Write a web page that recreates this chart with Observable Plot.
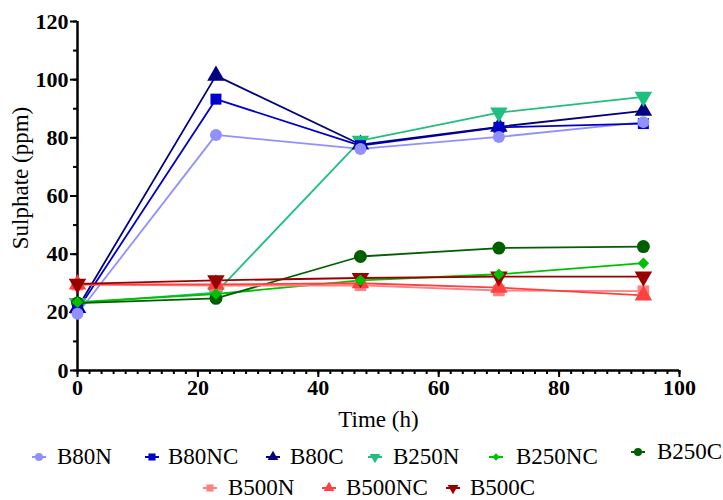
<!DOCTYPE html>
<html><head><meta charset="utf-8">
<script src="https://cdn.jsdelivr.net/npm/d3@7"></script>
<script src="https://cdn.jsdelivr.net/npm/@observablehq/plot@0.6"></script>
<style>
body{margin:0;background:#fff;}
#wrap{position:relative;width:723px;height:500px;font-family:"Liberation Serif",Tinos,"DejaVu Serif","Times New Roman",serif;overflow:hidden;}
#wrap svg.plot{position:absolute;left:0;top:0;}
.legsym{position:absolute;}
.legtxt{position:absolute;font-size:23px;line-height:23px;color:#000;white-space:nowrap;}
</style></head><body><div id="wrap"></div>
<script>
// ---- data ----
const times = [0, 23, 47, 70, 94];
const seriesNames = ["B80N", "B80NC", "B80C", "B250N", "B250NC", "B250C", "B500N", "B500NC", "B500C"];
const B80N   = [19.5, 81.0, 76.2, 80.3, 85.4];
const B80NC  = [20.7, 93.3, 77.3, 83.6, 84.9];
const B80C   = [21.5, 101.4, 77.7, 83.8, 89.3];
const B250N  = [23.2, 26.8, 79.0, 88.7, 94.1];
const B250NC = [23.5, 26.3, 31.0, 33.1, 36.9];
const B250C  = [23.2, 24.8, 39.2, 42.1, 42.6];
const B500N  = [29.5, 29.2, 29.3, 27.5, 27.3];
const B500NC = [29.6, 29.6, 30.0, 28.5, 25.8];
const B500C  = [29.8, 31.0, 31.8, 32.3, 32.3];
const seriesValues = [B80N, B80NC, B80C, B250N, B250NC, B250C, B500N, B500NC, B500C];
const seriesColors = ["#9090ff", "#0000cc", "#000080", "#1fbf7f", "#00c000", "#005f00", "#ff8080", "#ff4040", "#990000"];
const yTicks = [0, 20, 40, 60, 80, 100, 120];
const xTicks = [0, 20, 40, 60, 80, 100];

// down-pointing triangle symbol
const triangleDown = {
  draw(context, size) {
    const sqrt3 = Math.sqrt(3);
    const y = -Math.sqrt(size / (sqrt3 * 3));
    context.moveTo(0, -y * 2);
    context.lineTo(-sqrt3 * y, y);
    context.lineTo(sqrt3 * y, y);
    context.closePath();
  }
};
const seriesSymbols = [d3.symbolCircle, d3.symbolSquare, d3.symbolTriangle, triangleDown, d3.symbolDiamond2, d3.symbolCircle, d3.symbolSquare, d3.symbolTriangle, triangleDown];
const seriesR = [6, 6.2, 6.5, 6.5, 5.2, 6.5, 6.5, 6.5, 6.5];

const data = [];
seriesNames.forEach((s, i) => {
  times.forEach((t, j) => data.push({series: s, time: t, value: seriesValues[i][j], r: seriesR[i]}));
});

const font = '"Liberation Serif", Tinos, "DejaVu Serif", "Times New Roman", serif';

const plot = Plot.plot({
  width: 723,
  height: 435,
  marginLeft: 77,
  marginRight: 44,
  marginTop: 21,
  marginBottom: 65,
  style: {fontFamily: font, color: "#000", background: "#fff", overflow: "visible"},
  x: {domain: [0, 100], axis: null},
  y: {domain: [0, 120], axis: null},
  color: {domain: seriesNames, range: seriesColors},
  symbol: {domain: seriesNames, range: seriesSymbols},
  r: {type: "identity"},
  marks: [
    Plot.axisY({ticks: d3.range(0, 121, 10), tickSize: 4, tickFormat: () => "", strokeWidth: 2, label: null}),
    Plot.axisY({ticks: yTicks, tickSize: 7, tickPadding: 2, fontSize: 22, fontWeight: "bold", fontFamily: font, strokeWidth: 2, label: null}),
    Plot.axisX({ticks: d3.range(0, 101, 2), tickSize: 4, tickFormat: () => "", strokeWidth: 2, label: null}),
    Plot.axisX({ticks: xTicks, tickSize: 7, tickPadding: 2, fontSize: 22, fontWeight: "bold", fontFamily: font, strokeWidth: 2, label: null}),
    Plot.ruleX([0], {strokeWidth: 2.5}),
    Plot.ruleY([0], {strokeWidth: 2.5}),
    Plot.line(data, {x: "time", y: "value", z: "series", stroke: "series", strokeWidth: 1.8}),
    Plot.dot(data, {x: "time", y: "value", fill: "series", symbol: "series", r: "r", stroke: null}),
    Plot.text(["Time (h)"], {frameAnchor: "bottom", dy: 49, fontSize: 23, fontFamily: font, textAnchor: "middle", lineAnchor: "middle"}),
    Plot.text(["Sulphate (ppm)"], {frameAnchor: "left", dx: -57, dy: -18, rotate: -90, fontSize: 23, fontFamily: font, textAnchor: "middle", lineAnchor: "middle"})
  ]
});
plot.classList.add("plot");
const wrap = document.getElementById("wrap");
wrap.appendChild(plot);

// ---- legend (HTML) ----
const legendLayout = [
  {mx: 39, tx: 57, y: 457}, {mx: 152, tx: 168, y: 457}, {mx: 273, tx: 290, y: 457},
  {mx: 375, tx: 393, y: 457}, {mx: 496, tx: 516, y: 457}, {mx: 638, tx: 657, y: 452},
  {mx: 210, tx: 228, y: 488}, {mx: 329, tx: 346, y: 488}, {mx: 453, tx: 470, y: 488}
];
seriesNames.forEach((s, i) => {
  const L = legendLayout[i];
  const svg = d3.create("svg").attr("class", "legsym").attr("width", 20).attr("height", 16)
    .style("left", (L.mx - 10) + "px").style("top", (L.y - 8) + "px");
  svg.append("line").attr("x1", 3).attr("x2", 17).attr("y1", 8).attr("y2", 8)
    .attr("stroke", seriesColors[i]).attr("stroke-width", 2);
  svg.append("path").attr("transform", "translate(10,8)")
    .attr("d", d3.symbol(seriesSymbols[i], i === 4 ? 35 : 50)()).attr("fill", seriesColors[i]);
  wrap.appendChild(svg.node());
  const t = document.createElement("div");
  t.className = "legtxt";
  t.textContent = s;
  t.style.left = L.tx + "px";
  t.style.top = (L.y - 12) + "px";
  wrap.appendChild(t);
});
</script></body></html>
